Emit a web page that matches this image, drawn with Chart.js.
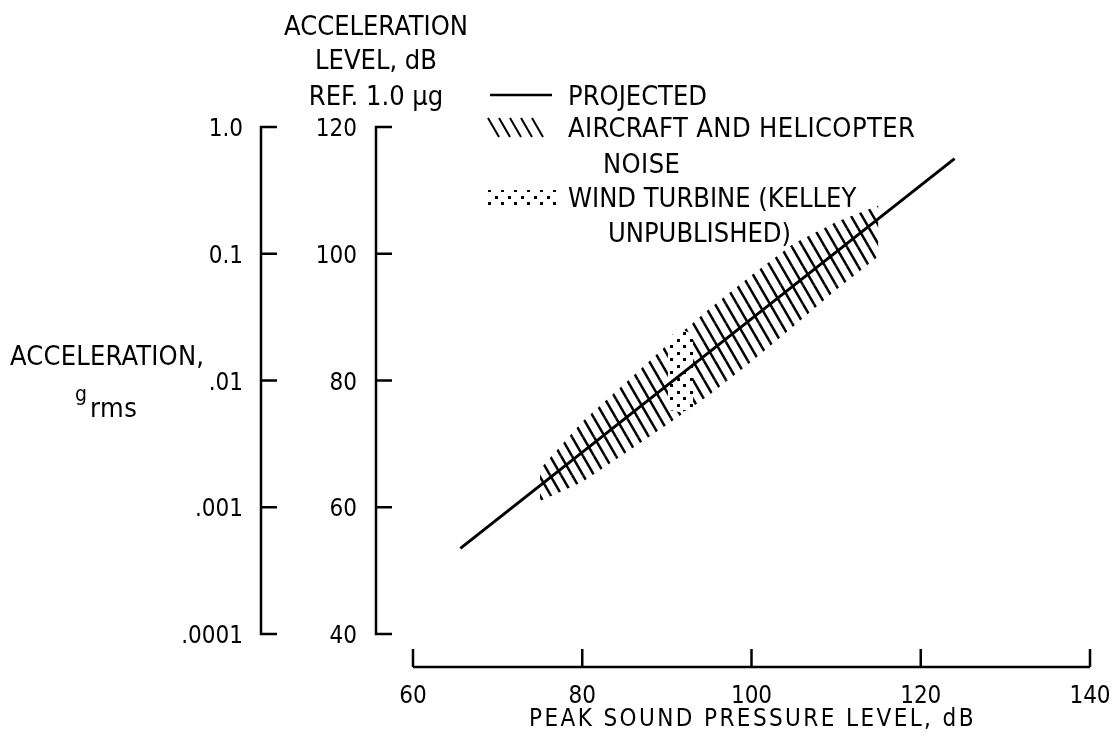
<!DOCTYPE html>
<html>
<head>
<meta charset="utf-8">
<title>Acceleration level vs peak sound pressure level</title>
<script src="https://cdn.jsdelivr.net/npm/chart.js@4.4.1/dist/chart.umd.min.js"></script>
<style>
  html, body { margin: 0; background: #fff; }
  canvas { display: block; }
</style>
</head>
<body>
<canvas id="chart" width="1114" height="742"></canvas>
<script>
// TICKS

const xTicks = [60, 80, 100, 120, 140];
const dbTicks = [40, 60, 80, 100, 120];
const gTicks = [0.0001, 0.001, 0.01, 0.1, 1];
const gTickLabels = ['.0001', '.001', '.01', '0.1', '1.0'];

// DATA (peak SPL, dB  ->  acceleration level, dB re 1.0 ug)

const projectedSpl = [65.6, 124.0];
const projectedAcc = [53.5, 115.0];

const noiseSpl   = [75,   80,   85,   90,   95,   100,  105,   110,   115];
const noiseUpper = [66.0, 73.5, 79.5, 85.6, 91.3, 96.6, 101.6, 105.0, 107.6];
const noiseLower = [61.0, 64.0, 68.5, 73.0, 77.7, 83.0, 88.6,  94.3,  99.6];

const turbineSpl   = [90.1, 91.6, 93.1];
const turbineUpper = [86.8, 88.0, 87.4];
const turbineLower = [75.4, 75.0, 75.6];

// STYLE

const ink = '#000';
const family = '"DejaVu Sans Condensed", "DejaVu Sans", sans-serif';
const tickFont = { family: family, size: 24 };
const clear = 'rgba(0,0,0,0)';

const pts = (xs, ys) => xs.map((x, i) => ({ x: x, y: ys[i] }));

// fill patterns

function hatchPattern() {
    const w = 11, h = 19;
    const c = document.createElement('canvas');
    c.width = w; c.height = h;
    const g = c.getContext('2d');
    g.strokeStyle = ink;
    g.lineWidth = 2.5;
    for (let ox = -1; ox <= 1; ox++) {
        for (let oy = -1; oy <= 1; oy++) {
            g.beginPath();
            g.moveTo(ox * w, oy * h);
            g.lineTo(ox * w + w, oy * h + h);
            g.stroke();
        }
    }
    return g.createPattern(c, 'repeat');
}

function stipplePattern() {
    const c = document.createElement('canvas');
    c.width = 13; c.height = 13;
    const g = c.getContext('2d');
    g.fillStyle = '#fff';
    g.fillRect(0, 0, 13, 13);
    g.fillStyle = ink;
    g.fillRect(1, 1, 3, 3);
    g.fillRect(7, 7, 3, 3);
    return g.createPattern(c, 'repeat');
}

const hatch = hatchPattern();
const stipple = stipplePattern();

// AXES (lines and inward ticks, placed off the plot area)

const axesPlugin = {
    id: 'axesPlugin',
    afterDraw(chart) {
        const { ctx, chartArea, scales } = chart;
        ctx.save();
        ctx.strokeStyle = ink;
        ctx.lineWidth = 2.5;
        ctx.lineJoin = 'miter';

        // bottom axis
        const xs = scales.x;
        const baseY = chartArea.bottom + 33;
        ctx.beginPath();
        ctx.moveTo(xs.getPixelForValue(xTicks[0]), baseY);
        ctx.lineTo(xs.getPixelForValue(xTicks[xTicks.length - 1]), baseY);
        xTicks.forEach(v => {
            const px = xs.getPixelForValue(v);
            ctx.moveTo(px, baseY);
            ctx.lineTo(px, baseY - 18);
        });
        ctx.stroke();

        // two left axes
        [[scales.yG, gTicks, 42], [scales.yDb, dbTicks, 37]].forEach(([s, ticks, inset]) => {
            const ax = s.right - inset;
            const top = s.getPixelForValue(ticks[ticks.length - 1]);
            const bottom = s.getPixelForValue(ticks[0]);
            ctx.beginPath();
            ctx.moveTo(ax + 16, top);
            ctx.lineTo(ax, top);
            ctx.lineTo(ax, bottom);
            ctx.lineTo(ax + 16, bottom);
            ticks.slice(1, -1).forEach(v => {
                const py = s.getPixelForValue(v);
                ctx.moveTo(ax, py);
                ctx.lineTo(ax + 16, py);
            });
            ctx.stroke();
        });
        ctx.restore();
    }
};

// TITLES AND LEGEND

function text(ctx, str, x, y, size, align, spacing) {
    ctx.font = size + 'px ' + family;
    ctx.letterSpacing = (spacing || 0) + 'px';
    ctx.textAlign = align || 'left';
    ctx.fillText(str, x, y);
}

const labelsPlugin = {
    id: 'labelsPlugin',
    afterDraw(chart) {
        const { ctx, scales } = chart;
        const dbx = scales.yDb.right - 37;
        ctx.save();
        ctx.fillStyle = ink;
        ctx.textBaseline = 'alphabetic';

        // dB axis heading
        text(ctx, 'ACCELERATION', dbx, 35, 27, 'center', 0);
        text(ctx, 'LEVEL, dB', dbx, 69, 27, 'center', 0);
        text(ctx, 'REF. 1.0 \u00b5g', dbx, 105, 27, 'center', 0);

        // g axis heading
        text(ctx, 'ACCELERATION,', 10, 365, 27, 'left', 0.2);
        text(ctx, 'g', 75, 401, 21, 'left', 0);
        text(ctx, 'rms', 90, 417, 27, 'left', 0.5);

        // bottom axis title
        text(ctx, 'PEAK SOUND PRESSURE LEVEL, dB', scales.x.getPixelForValue(100) + 1, 726, 24, 'center', 2.4);

        // legend
        const lx = 568;
        text(ctx, 'PROJECTED', lx, 105, 27, 'left', 0);
        text(ctx, 'AIRCRAFT AND HELICOPTER', lx, 137, 27, 'left', 0.4);
        text(ctx, 'NOISE', lx + 35, 173, 27, 'left', 0.4);
        text(ctx, 'WIND TURBINE (KELLEY', lx, 207, 27, 'left', 0);
        text(ctx, 'UNPUBLISHED)', lx + 40, 242, 27, 'left', 0);

        ctx.strokeStyle = ink;
        ctx.lineWidth = 2.5;
        ctx.beginPath();
        ctx.moveTo(490, 95);
        ctx.lineTo(552, 95);
        ctx.stroke();

        ctx.lineWidth = 2;
        ctx.beginPath();
        for (let i = 0; i < 5; i++) {
            ctx.moveTo(488 + i * 11, 118);
            ctx.lineTo(499 + i * 11, 137);
        }
        ctx.stroke();

        ctx.fillStyle = stipple;
        ctx.fillRect(486, 190, 70, 16);
        ctx.restore();
    }
};

// CHART

const hiddenGrid = (len) => ({
    display: true,
    drawOnChartArea: false,
    drawTicks: true,
    tickLength: len,
    color: clear
});

new Chart(document.getElementById('chart'), {
    type: 'line',
    data: {
        datasets: [
            {
                label: 'PROJECTED',
                data: pts(projectedSpl, projectedAcc),
                borderColor: ink,
                borderWidth: 3,
                fill: false,
                xAxisID: 'x',
                yAxisID: 'yDb'
            },
            {
                label: 'WIND TURBINE (KELLEY UNPUBLISHED)',
                data: pts(turbineSpl, turbineUpper),
                borderColor: clear,
                borderWidth: 0,
                backgroundColor: stipple,
                fill: '+1',
                xAxisID: 'x',
                yAxisID: 'yDb'
            },
            {
                data: pts(turbineSpl, turbineLower),
                borderColor: clear,
                borderWidth: 0,
                fill: false,
                xAxisID: 'x',
                yAxisID: 'yDb'
            },
            {
                label: 'AIRCRAFT AND HELICOPTER NOISE',
                data: pts(noiseSpl, noiseUpper),
                borderColor: clear,
                borderWidth: 0,
                backgroundColor: hatch,
                fill: '+1',
                xAxisID: 'x',
                yAxisID: 'yDb'
            },
            {
                data: pts(noiseSpl, noiseLower),
                borderColor: clear,
                borderWidth: 0,
                fill: false,
                xAxisID: 'x',
                yAxisID: 'yDb'
            }
        ]
    },
    options: {
        responsive: false,
        animation: false,
        devicePixelRatio: 1,
        elements: {
            point: { radius: 0, hoverRadius: 0 },
            line: { tension: 0 }
        },
        layout: { padding: { left: 170, right: 24, top: 127, bottom: 0 } },
        plugins: {
            legend: { display: false },
            tooltip: { enabled: false }
        },
        scales: {
            x: {
                type: 'linear',
                min: 60,
                max: 140,
                grid: hiddenGrid(48),
                border: { display: false },
                afterBuildTicks: s => { s.ticks = xTicks.map(value => ({ value })); },
                afterFit: s => { s.height = 108; },
                ticks: { font: tickFont, color: ink, padding: 0, maxRotation: 0, autoSkip: false }
            },
            yDb: {
                type: 'linear',
                position: 'left',
                weight: 0,
                min: 40,
                max: 120,
                grid: hiddenGrid(56),
                border: { display: false },
                afterBuildTicks: s => { s.ticks = dbTicks.map(value => ({ value })); },
                afterFit: s => { s.width = 110; },
                ticks: { font: tickFont, color: ink, padding: 0, labelOffset: 3, autoSkip: false }
            },
            yG: {
                type: 'logarithmic',
                position: 'left',
                weight: 1,
                min: 0.0001,
                max: 1,
                grid: hiddenGrid(60),
                border: { display: false },
                afterBuildTicks: s => { s.ticks = gTicks.map(value => ({ value })); },
                afterFit: s => { s.width = 133; },
                ticks: {
                    font: tickFont,
                    color: ink,
                    padding: 0,
                    labelOffset: 3,
                    autoSkip: false,
                    callback: v => gTickLabels[gTicks.indexOf(v)]
                }
            }
        }
    },
    plugins: [axesPlugin, labelsPlugin]
});
</script>
</body>
</html>
